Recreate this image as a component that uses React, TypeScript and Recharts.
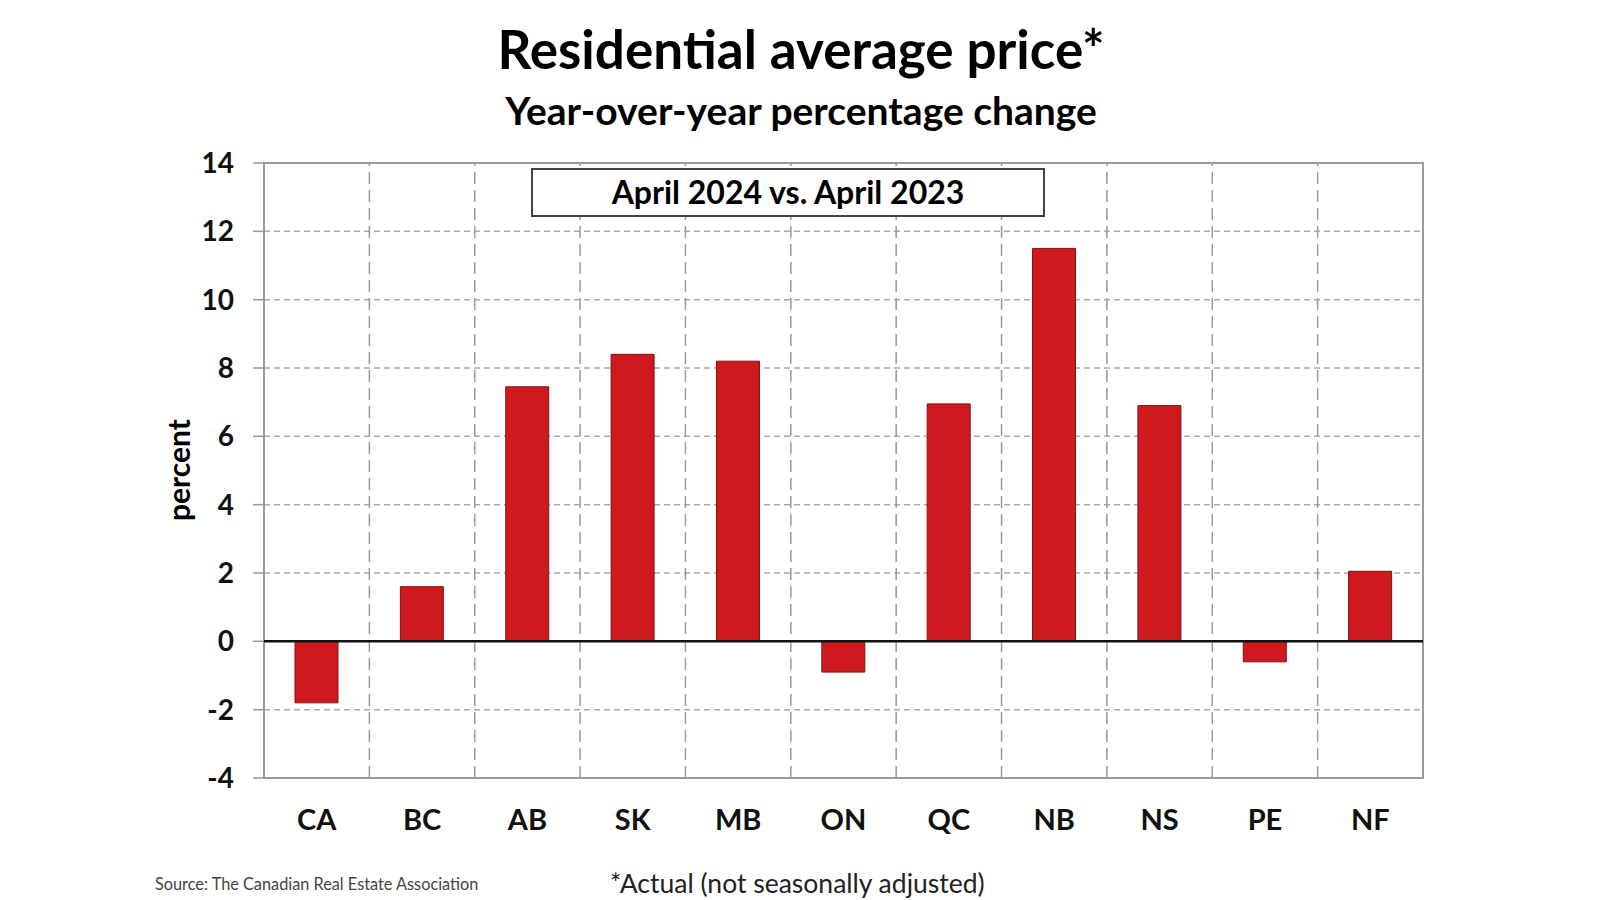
import React from 'react';
import { BarChart, Bar, XAxis, YAxis, CartesianGrid, ReferenceLine, ReferenceArea } from 'recharts';

const categories = ['CA', 'BC', 'AB', 'SK', 'MB', 'ON', 'QC', 'NB', 'NS', 'PE', 'NF'];
const values = [-1.8, 1.6, 7.45, 8.4, 8.2, -0.9, 6.95, 11.5, 6.9, -0.6, 2.05];
const yTicks = [-4, -2, 0, 2, 4, 6, 8, 10, 12, 14];

const title = 'Residential average price*';
const subtitle = 'Year-over-year percentage change';
const boxLabel = 'April 2024 vs. April 2023';
const yLabel = 'percent';
const source = 'Source: The Canadian Real Estate Association';
const footnote = '*Actual (not seasonally adjusted)';

const data = categories.map((c, i) => ({ name: c, value: values[i] }));
const boundaryCats = categories.slice(1);

const FONT = 'Lato, "Open Sans", sans-serif';

export default function App() {
  return (
    <div style={{ position: 'absolute', left: 0, top: 0, width: 1600, height: 900, background: '#fff', fontFamily: FONT }}>
      <BarChart
        width={1600}
        height={900}
        data={data}
        margin={{ top: 163, right: 177, bottom: 62, left: 0 }}
      >
        <CartesianGrid vertical={false} stroke="#aaaaaa" strokeDasharray="6 4" strokeWidth={1.5} />
        <XAxis
          dataKey="name"
          height={60}
          axisLine={false}
          tickLine={false}
          tickMargin={25}
          interval={0}
          tick={{ fontFamily: FONT, fontWeight: 700, fontSize: 29, fill: '#111' }}
        />
        <YAxis
          width={264}
          domain={[-4, 14]}
          ticks={yTicks}
          interval={0}
          axisLine={false}
          tickSize={11}
          tickMargin={19}
          tickLine={{ stroke: '#999999', strokeWidth: 1.5 }}
          tick={{ fontFamily: FONT, fontWeight: 700, fontSize: 28, fill: '#111' }}
        />
        {boundaryCats.map((c) => (
          <ReferenceLine
            key={c}
            x={c}
            position="start"
            stroke="#999999"
            strokeWidth={1.5}
            strokeDasharray="12 6"
          />
        ))}
        <Bar dataKey="value" fill="#D0191F" stroke="#7a1515" strokeWidth={1} barSize={43} isAnimationActive={false} />
        <ReferenceLine y={0} stroke="#111111" strokeWidth={2.5} />
        <ReferenceArea y1={-4} y2={14} fill="none" fillOpacity={0} stroke="#9a9a9a" strokeWidth={2} ifOverflow="visible" />
      </BarChart>
      <svg
        width={1600}
        height={900}
        style={{ position: 'absolute', left: 0, top: 0, pointerEvents: 'none' }}
      >
        <text x={801} y={69} textAnchor="middle" fontFamily={FONT} fontWeight={700} fontSize={53} fill="#000">{title}</text>
        <text x={801} y={125} textAnchor="middle" fontFamily={FONT} fontWeight={700} fontSize={39} fill="#000">{subtitle}</text>
        <rect x={532} y={169} width={512} height={47} fill="#fff" stroke="#444" strokeWidth={2} />
        <text x={788} y={204} textAnchor="middle" fontFamily={FONT} fontWeight={700} fontSize={32} fill="#000">{boxLabel}</text>
        <text x={0} y={0} transform="translate(190 470) rotate(-90)" textAnchor="middle" fontFamily={FONT} fontWeight={700} fontSize={30} fill="#000">{yLabel}</text>
        <text x={155} y={890} fontFamily={FONT} fontSize={16.3} fill="#444">{source}</text>
        <text x={610} y={893} fontFamily={FONT} fontSize={26.5} fill="#222">{footnote}</text>
      </svg>
    </div>
  );
}
